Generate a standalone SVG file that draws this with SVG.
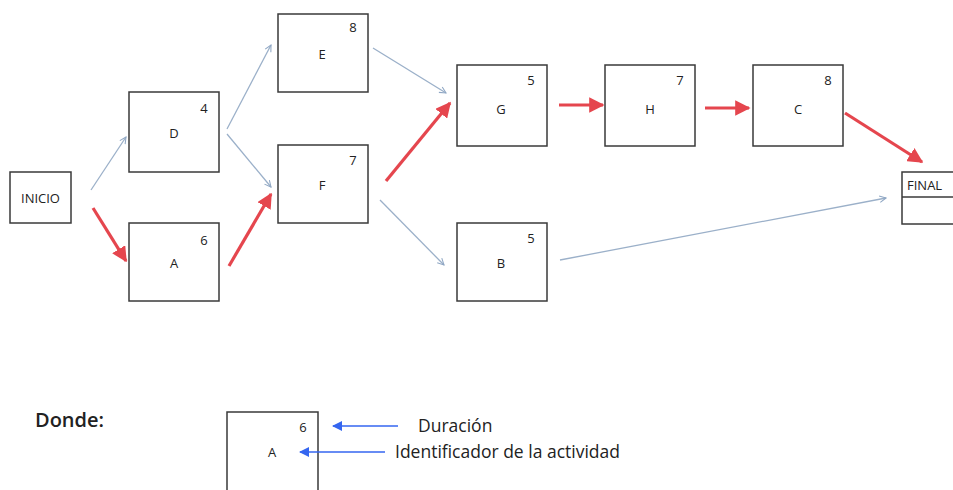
<svg xmlns="http://www.w3.org/2000/svg" width="953" height="490" viewBox="0 0 953 490">
<defs>
<marker id="hb" viewBox="0 0 10 10" refX="9" refY="5" markerWidth="8" markerHeight="8" markerUnits="userSpaceOnUse" orient="auto"><path d="M1,1 L9,5 L1,9" fill="none" stroke="#8fa7c4" stroke-width="1.3"/></marker>
<marker id="hr" viewBox="0 0 10 10" refX="9" refY="5" markerWidth="4.8" markerHeight="4.8" orient="auto"><path d="M0,0 L10,5 L0,10 Z" fill="#e5464e"/></marker>
<marker id="hl" viewBox="0 0 10 10" refX="9" refY="5" markerWidth="12" markerHeight="10" markerUnits="userSpaceOnUse" orient="auto"><path d="M0,0 L10,5 L0,10 Z" fill="#3566f0"/></marker>
</defs>
<style>
.box{fill:#fff;stroke:#3a3a3a;stroke-width:1.5}
.t{font-family:"Open Sans","Liberation Sans",sans-serif;font-size:13px;fill:#222;text-anchor:middle}
.n{font-family:"Open Sans","Liberation Sans",sans-serif;font-size:13px;fill:#222;text-anchor:middle}
.blue{stroke:#9bb0c9;stroke-width:1.3;fill:none;marker-end:url(#hb)}
.red{stroke:#e5464e;stroke-width:3.2;fill:none;marker-end:url(#hr)}
.leg{stroke:#3566f0;stroke-width:1.5;fill:none;marker-end:url(#hl)}
.lt{font-family:"Open Sans","Liberation Sans",sans-serif;font-size:17.5px;fill:#222}
</style>
<rect width="953" height="490" fill="#fff"/>
<g id="connectors">
<line class="blue" x1="91" y1="190" x2="126" y2="137"/>
<line class="red" x1="93" y1="208" x2="126" y2="261"/>
<line class="blue" x1="227" y1="129" x2="271" y2="45"/>
<line class="blue" x1="227" y1="134" x2="271" y2="187"/>
<line class="red" x1="229" y1="266" x2="271" y2="194"/>
<line class="blue" x1="373" y1="48" x2="446" y2="93"/>
<line class="red" x1="386" y1="181" x2="450" y2="103"/>
<line class="blue" x1="380" y1="200" x2="444" y2="265"/>
<line class="red" x1="559" y1="105" x2="603" y2="105"/>
<line class="red" x1="705" y1="108" x2="749" y2="108"/>
<line class="red" x1="845" y1="113" x2="922" y2="162"/>
<line class="blue" x1="560" y1="260" x2="886" y2="198"/>
</g>
<g id="INICIO"><rect class="box" x="10" y="172" width="61" height="51"/><text class="t" x="40.5" y="203">INICIO</text></g>
<g id="D"><rect class="box" x="129" y="92" width="90" height="80"/><text class="n" x="204" y="113">4</text><text class="t" x="174" y="138">D</text></g>
<g id="A"><rect class="box" x="129" y="223" width="90" height="78"/><text class="n" x="204" y="245">6</text><text class="t" x="174" y="268">A</text></g>
<g id="E"><rect class="box" x="278" y="14" width="90" height="78"/><text class="n" x="353" y="32">8</text><text class="t" x="322" y="59">E</text></g>
<g id="F"><rect class="box" x="278" y="145" width="90" height="78"/><text class="n" x="353" y="165">7</text><text class="t" x="322" y="190">F</text></g>
<g id="G"><rect class="box" x="457" y="65" width="90" height="81"/><text class="n" x="531" y="85">5</text><text class="t" x="501" y="114">G</text></g>
<g id="B"><rect class="box" x="457" y="223" width="90" height="78"/><text class="n" x="531" y="243">5</text><text class="t" x="501" y="268">B</text></g>
<g id="H"><rect class="box" x="605" y="65" width="90" height="81"/><text class="n" x="680" y="85">7</text><text class="t" x="650" y="114">H</text></g>
<g id="C"><rect class="box" x="753" y="65" width="90" height="81"/><text class="n" x="828" y="85">8</text><text class="t" x="798" y="114">C</text></g>
<g id="FINAL"><rect class="box" x="902" y="172" width="60" height="52"/><line x1="902" y1="197" x2="962" y2="197" stroke="#3a3a3a" stroke-width="1.5"/><text class="t" x="907" y="190" style="text-anchor:start">FINAL</text></g>
<g id="legend">
<text class="lt" x="35" y="427" style="font-size:20px;font-weight:600">Donde:</text>
<path d="M227,490 L227,412 L318,412 L318,490" fill="#fff" stroke="#3a3a3a" stroke-width="1.5"/>
<text class="n" x="303" y="432">6</text>
<text class="t" x="272" y="457">A</text>
<line class="leg" x1="398" y1="426" x2="333" y2="426"/>
<line class="leg" x1="385" y1="452" x2="300" y2="452"/>
<text class="lt" x="418" y="432">Duración</text>
<text class="lt" x="395" y="458">Identificador de la actividad</text>
</g>
</svg>
